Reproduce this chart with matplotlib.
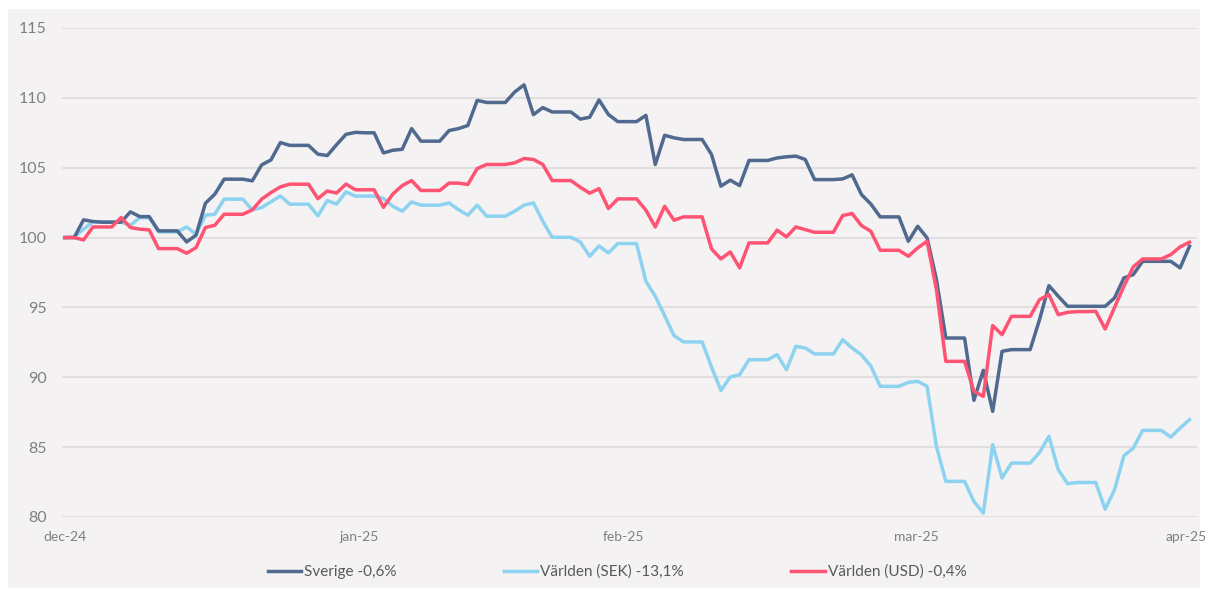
import matplotlib.pyplot as plt
from matplotlib.patches import Rectangle
import numpy as np

plt.rcParams['font.family'] = ['Lato', 'DejaVu Sans']

# index values, daily from dec-24 to apr-25 (start = 100)
sverige = [100.0, 100.0, 101.27, 101.15, 101.1, 101.1, 101.1, 101.84, 101.5, 101.5,
           100.48, 100.48, 100.48, 99.69, 100.17, 102.46, 103.1, 104.18, 104.18, 104.18,
           104.06, 105.2, 105.56, 106.8, 106.6, 106.6, 106.6, 105.97, 105.87, 106.65,
           107.39, 107.53, 107.5, 107.5, 106.06, 106.25, 106.32, 107.8, 106.9, 106.9,
           106.9, 107.66, 107.8, 108.02, 109.82, 109.67, 109.67, 109.67, 110.42, 110.93,
           108.8, 109.3, 108.99, 108.99, 108.99, 108.48, 108.61, 109.85, 108.81, 108.3,
           108.3, 108.3, 108.75, 105.23, 107.32, 107.14, 107.02, 107.02, 107.02, 105.95,
           103.68, 104.11, 103.72, 105.52, 105.52, 105.52, 105.7, 105.78, 105.83, 105.59,
           104.15, 104.15, 104.15, 104.2, 104.49, 103.08, 102.4, 101.48, 101.48, 101.48,
           99.74, 100.81, 99.98, 96.99, 92.81, 92.81, 92.81, 88.35, 90.5, 87.56,
           91.86, 91.98, 91.98, 91.98, 94.13, 96.56, 95.8, 95.08, 95.08, 95.08,
           95.08, 95.08, 95.68, 97.11, 97.35, 98.3, 98.3, 98.3, 98.3, 97.83,
           99.38]

varlden_sek = [100.0, 100.05, 100.6, 101.12, 101.12, 101.12, 101.12, 100.88, 101.43, 101.43,
               100.41, 100.41, 100.41, 100.76, 100.24, 101.6, 101.67, 102.75, 102.75, 102.75,
               101.98, 102.15, 102.56, 102.98, 102.39, 102.39, 102.39, 101.55, 102.65, 102.4,
               103.27, 102.97, 102.97, 102.97, 102.8, 102.24, 101.89, 102.55, 102.32, 102.32,
               102.32, 102.48, 102.0, 101.6, 102.32, 101.53, 101.53, 101.53, 101.89, 102.32,
               102.48, 101.17, 100.02, 100.02, 100.02, 99.69, 98.66, 99.4, 98.9, 99.57,
               99.57, 99.57, 96.87, 95.8, 94.41, 92.98, 92.53, 92.53, 92.53, 90.74,
               89.06, 90.02, 90.19, 91.26, 91.26, 91.26, 91.62, 90.54, 92.22, 92.1,
               91.67, 91.67, 91.67, 92.69, 92.1, 91.6, 90.8, 89.35, 89.35, 89.35,
               89.64, 89.71, 89.35, 85.05, 82.55, 82.55, 82.55, 81.11, 80.28, 85.17,
               82.79, 83.86, 83.86, 83.86, 84.62, 85.77, 83.38, 82.38, 82.47, 82.47,
               82.47, 80.56, 81.95, 84.38, 84.93, 86.2, 86.2, 86.2, 85.72, 86.37,
               86.96]

varlden_usd = [100.0, 100.0, 99.83, 100.76, 100.76, 100.76, 101.43, 100.72, 100.6, 100.55,
               99.21, 99.21, 99.21, 98.88, 99.28, 100.72, 100.88, 101.67, 101.67, 101.67,
               101.98, 102.75, 103.22, 103.63, 103.82, 103.82, 103.82, 102.79, 103.33, 103.19,
               103.83, 103.42, 103.42, 103.42, 102.16, 103.12, 103.72, 104.08, 103.37, 103.37,
               103.37, 103.9, 103.9, 103.8, 104.94, 105.23, 105.23, 105.23, 105.35, 105.66,
               105.59, 105.23, 104.08, 104.08, 104.08, 103.6, 103.18, 103.5, 102.08, 102.77,
               102.77, 102.77, 101.96, 100.76, 102.24, 101.24, 101.48, 101.48, 101.48, 99.19,
               98.47, 98.97, 97.83, 99.62, 99.62, 99.62, 100.53, 100.05, 100.76, 100.57,
               100.38, 100.38, 100.38, 101.58, 101.72, 100.86, 100.45, 99.09, 99.09, 99.09,
               98.66, 99.26, 99.74, 96.28, 91.14, 91.14, 91.14, 89.0, 88.63, 93.7,
               93.05, 94.36, 94.36, 94.36, 95.56, 95.92, 94.48, 94.65, 94.7, 94.7,
               94.72, 93.46, 95.0, 96.51, 97.9, 98.47, 98.47, 98.47, 98.78, 99.33,
               99.67]

labels = ['Sverige -0,6%', 'Världen (SEK) -13,1%', 'Världen (USD) -0,4%']
month_labels = ['dec-24', 'jan-25', 'feb-25', 'mar-25', 'apr-25']
month_pos = [0, 31.4, 59.6, 90.9, 119.6]

bg = '#F4F2F3'
fig = plt.figure(figsize=(12.05, 5.9), dpi=100, facecolor='white')
fig.patches.append(Rectangle((8 / 1205, 2 / 590), 1192 / 1205, 579 / 590,
                             transform=fig.transFigure, facecolor=bg,
                             edgecolor='none', zorder=-10))

ax = fig.add_axes([62 / 1205, 1 - 517 / 590, 1135 / 1205, 489 / 590])
ax.set_facecolor(bg)

x = np.arange(len(sverige))
ax.plot(x, sverige, color='#50698F', lw=2.5, label=labels[0], zorder=3)
ax.plot(x, varlden_sek, color='#8DD3F0', lw=2.5, label=labels[1], zorder=2)
ax.plot(x, varlden_usd, color='#FF5373', lw=2.5, label=labels[2], zorder=4)

ax.set_ylim(80, 115)
ax.set_xlim(-0.3, 120.8)
ax.set_yticks(np.arange(80, 116, 5))
ax.set_xticks(month_pos)
ax.set_xticklabels(month_labels)
ax.grid(axis='y', color='#DCDADB', lw=1.2)
ax.set_axisbelow(True)
for s in ax.spines.values():
    s.set_visible(False)
ax.tick_params(axis='both', length=0, colors='#808080')
ax.tick_params(axis='y', labelsize=11.5, pad=11)
ax.tick_params(axis='x', labelsize=10, pad=10)

fig.legend(loc='center', bbox_to_anchor=(0.512, 1 - 572 / 590), ncol=3,
           frameon=False, fontsize=11, handlelength=2.2, handletextpad=0.2,
           columnspacing=7.0, labelcolor='#595959')

fig.savefig('out.png', dpi=100, facecolor='white')
